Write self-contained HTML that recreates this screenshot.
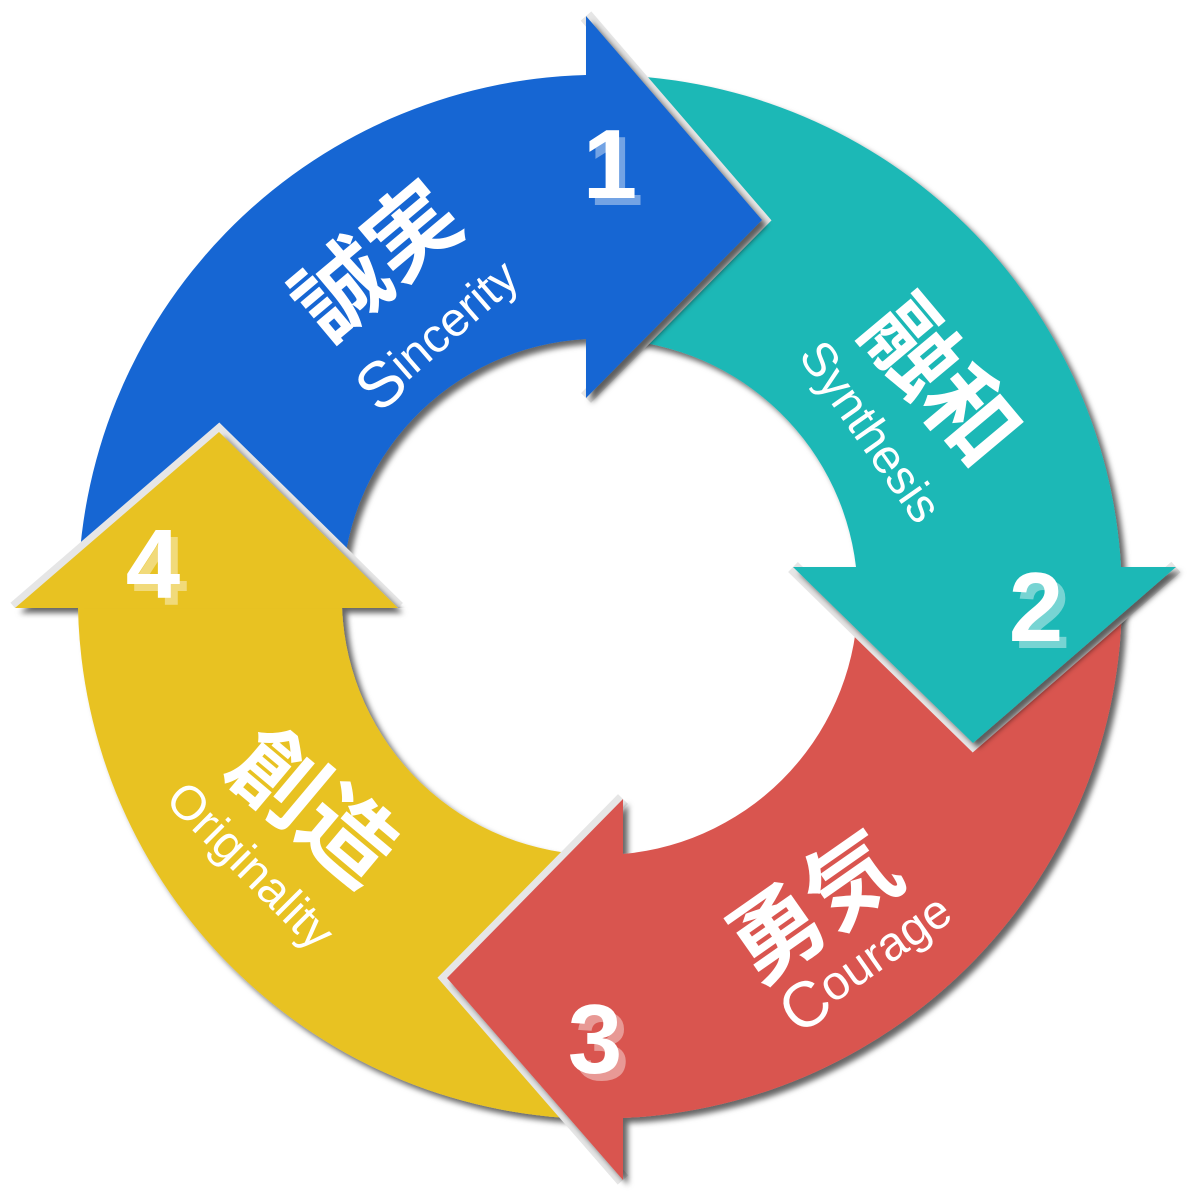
<!DOCTYPE html>
<html><head><meta charset="utf-8"><style>
html,body{margin:0;padding:0;background:#fff;}
svg{display:block;}
text{font-family:"Liberation Sans","Noto Sans CJK JP",sans-serif;fill:#fff;}
</style></head><body>
<svg width="1200" height="1200" viewBox="0 0 1200 1200" xmlns="http://www.w3.org/2000/svg">
<defs>
<filter id="sh" x="-20%" y="-20%" width="140%" height="140%">
<feDropShadow dx="5" dy="5" stdDeviation="3" flood-color="#000" flood-opacity="0.6"/>
</filter>
<clipPath id="cy"><rect x="0" y="0" width="1200" height="608"/></clipPath>
</defs>
<!-- yellow -->
<polyline points="623,799 447,978 623,1180" fill="none" stroke="#e6e6e6" stroke-width="14" opacity="0"/>
<path d="M600,1119 A522,522 0 0 1 78,608 L15,608 L219,432 L398,608 L342,608 A258,258 0 0 0 600,855 Z" fill="#e8c222" filter="url(#sh)"/>
<!-- red -->
<polyline points="623,799 447,978 623,1180" fill="none" stroke="#e6e6e6" stroke-width="14"/>
<path d="M1122,597 A522,522 0 0 1 623,1118 L623,1180 L447,978 L623,799 L623,854 A258,258 0 0 0 858,597 Z" fill="#d95550" filter="url(#sh)"/>
<!-- teal -->
<polyline points="793,567 973,743 1176,567" fill="none" stroke="#e6e6e6" stroke-width="14"/>
<path d="M600,75 A522,522 0 0 1 1121,567 L1176,567 L973,743 L793,567 L856,567 A258,258 0 0 0 600,339 Z" fill="#1eb8b6" filter="url(#sh)"/>
<!-- blue -->
<polyline points="586,16 762,220 586,398" fill="none" stroke="#e6e6e6" stroke-width="14"/>
<path d="M78,597 A522,522 0 0 1 586,75 L586,16 L762,220 L586,398 L586,339 A258,258 0 0 0 342,597 Z" fill="#1366d3" filter="url(#sh)"/>
<!-- yellow head on top -->
<g clip-path="url(#cy)">
<polyline points="15,608 219,432 398,608" fill="none" stroke="#e6e6e6" stroke-width="14"/>
<g filter="url(#sh)"><polygon points="15,608 219,432 398,608 342,608 342,640 78,640 78,608" fill="#e8c222"/></g>
</g>
<!-- numbers -->
<g font-weight="bold" font-size="98" text-anchor="middle">
<text x="616" y="205" opacity="0.4">1</text><text x="610" y="198">1</text>
<text x="1043" y="648" opacity="0.4">2</text><text x="1036" y="641">2</text>
<text x="602" y="1080" opacity="0.4">3</text><text x="595" y="1073">3</text>
<text x="160" y="605" opacity="0.4">4</text><text x="153" y="598">4</text>
</g>
<!-- kanji -->
<g font-weight="bold" font-size="92" text-anchor="middle" dominant-baseline="central">
<text transform="translate(378,262) rotate(-40)">誠実</text>
<text transform="translate(940,382) rotate(50)">融和</text>
<text transform="translate(815,908) rotate(-35)">勇気</text>
<text transform="translate(312,808) rotate(40)">創造</text>
</g>
<!-- english -->
<g font-size="48" text-anchor="middle" dominant-baseline="central">
<text transform="translate(438,334) rotate(-41)"><tspan font-size="64">S</tspan>incerity</text>
<text transform="translate(870,432) rotate(55)">Synthesis</text>
<text transform="translate(866,962) rotate(-35)"><tspan font-size="64">C</tspan>ourage</text>
<text transform="translate(250,866) rotate(45)">Originality</text>
</g>
</svg>
</body></html>
